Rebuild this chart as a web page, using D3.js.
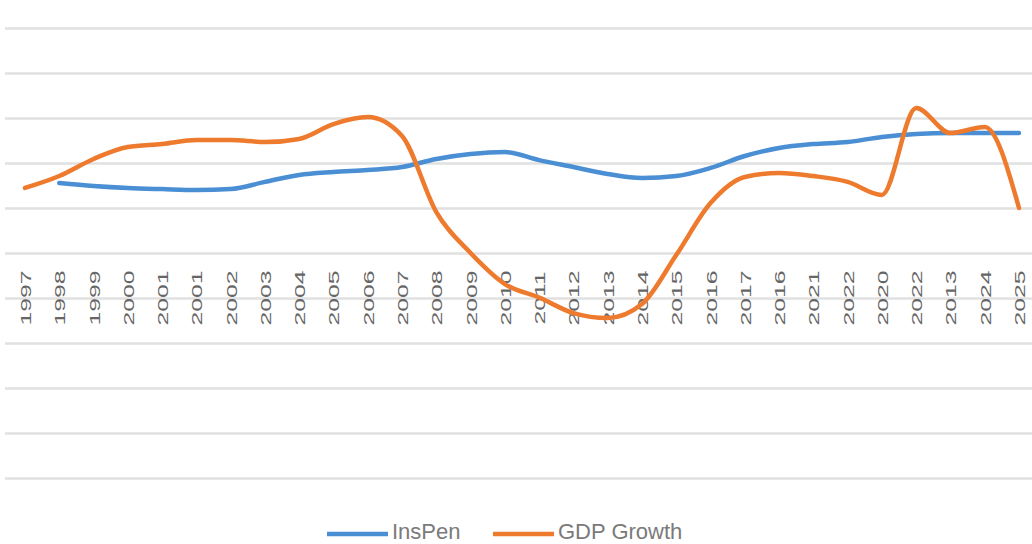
<!DOCTYPE html>
<html>
<head>
<meta charset="utf-8">
<script src="https://cdn.jsdelivr.net/npm/d3@7"></script>
<style>
  html, body { margin: 0; padding: 0; background: #ffffff; }
  svg { display: block; }
</style>
</head>
<body>
<svg id="chart" width="1032" height="544"></svg>
<script>
// ---- data ----
const categories = ["1997","1998","1999","2000","2001","2001","2002","2003","2004","2005",
  "2006","2007","2008","2009","2010","2011","2012","2013","2014","2015",
  "2016","2017","2016","2021","2022","2020","2022","2013","2024","2025"];
const insPen = [null, 5.11, 4.98, 4.89, 4.84, 4.80, 4.84, 5.16, 5.47, 5.60,
  5.69, 5.82, 6.18, 6.40, 6.49, 6.13, 5.82, 5.51, 5.33, 5.42,
  5.78, 6.31, 6.67, 6.84, 6.93, 7.16, 7.29, 7.33, 7.33, 7.33];
const gdpGrowth = [4.89, 5.42, 6.18, 6.71, 6.84, 7.02, 7.02, 6.93, 7.07, 7.73,
  8.04, 7.20, 3.82, 2.00, 0.62, 0.02, -0.67, -0.89, -0.27, 1.91,
  4.22, 5.38, 5.56, 5.42, 5.16, 4.58, 8.44, 7.33, 7.60, 4.00];
const yTicks = [-8, -6, -4, -2, 0, 2, 4, 6, 8, 10, 12];
const seriesNames = ["InsPen", "GDP Growth"];
const seriesColors = ["#4a8ed4", "#ee7a2e"];

// ---- layout ----
const svg = d3.select("#chart");
const W = 1032, H = 544;
const x = d3.scalePoint().domain(d3.range(categories.length)).range([25, 1019]);
const y = d3.scaleLinear().domain([-8, 12]).range([478, 28]);

// gridlines
svg.append("g")
  .attr("transform", "translate(5,0)")
  .call(d3.axisLeft(y).tickValues(yTicks).tickSize(-(W - 5)).tickFormat(""))
  .call(g => g.select(".domain").remove())
  .call(g => g.selectAll("line").attr("stroke", "#e1e1e1").attr("stroke-width", 2.5));

// category axis (labels centred on the zero line)
const xAxis = svg.append("g")
  .attr("transform", `translate(0,${y(0)})`)
  .call(d3.axisBottom(x).tickSize(0).tickFormat(i => categories[i]));
xAxis.select(".domain").remove();
xAxis.selectAll("text")
  .attr("x", 0).attr("y", 0).attr("dy", null)
  .attr("transform", "rotate(-90) scale(1.65,1)")
  .attr("text-anchor", "middle")
  .attr("dominant-baseline", "central")
  .style("font-family", "'Liberation Sans', Arial, sans-serif")
  .style("font-size", "15px")
  .style("fill", "#666666");

// lines
const mk = vals => d3.line()
  .defined(i => vals[i] !== null)
  .x(i => x(i))
  .y(i => y(vals[i]))
  .curve(d3.curveMonotoneX);

const idx = d3.range(categories.length);
svg.append("path")
  .attr("d", mk(insPen)(idx))
  .attr("fill", "none").attr("stroke", seriesColors[0])
  .attr("stroke-width", 4.5).attr("stroke-linejoin", "round").attr("stroke-linecap", "round");
svg.append("path")
  .attr("d", mk(gdpGrowth)(idx))
  .attr("fill", "none").attr("stroke", seriesColors[1])
  .attr("stroke-width", 4.5).attr("stroke-linejoin", "round").attr("stroke-linecap", "round");

// legend
const legend = svg.append("g").attr("transform", "translate(327,534)");
const legendItems = [{ name: seriesNames[0], color: seriesColors[0], dx: 0 },
                     { name: seriesNames[1], color: seriesColors[1], dx: 166 }];
const li = legend.selectAll("g").data(legendItems).join("g")
  .attr("transform", d => `translate(${d.dx},0)`);
li.append("line").attr("x1", 0).attr("x2", 61).attr("y1", 0).attr("y2", 0)
  .attr("stroke", d => d.color).attr("stroke-width", 4.5);
li.append("text").attr("x", 65).attr("y", 5)
  .style("font-family", "'Liberation Sans', Arial, sans-serif")
  .style("font-size", "22px")
  .style("fill", "#7a7a7a")
  .text(d => d.name);
</script>
</body>
</html>
